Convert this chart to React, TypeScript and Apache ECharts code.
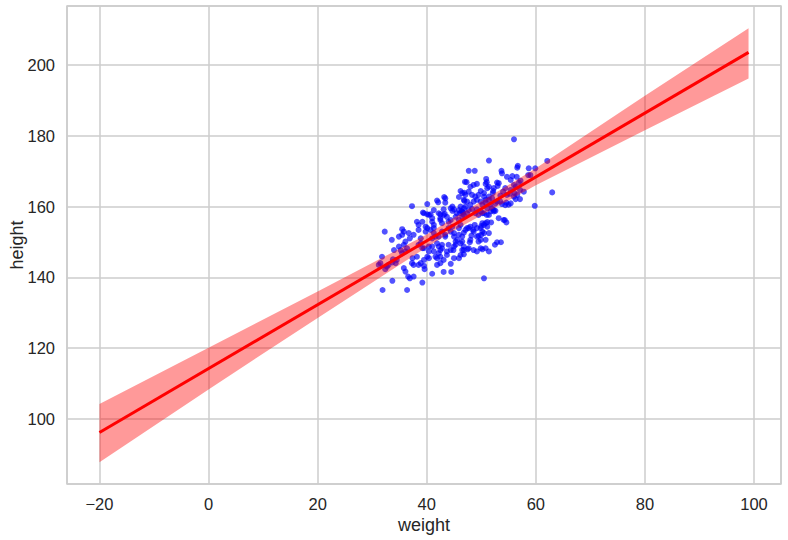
import React, { useEffect, useRef } from "react";
import * as echarts from "echarts";

// scatter: weight (x) / height (y)
const weights = [
  46.2, 46.9, 43.2, 41.9, 42.1, 43.4, 45.9, 46.9, 37.3, 40.1, 39.3, 40.1, 40.7, 43.1, 44.7, 45.0, 44.7, 46.2, 46.4, 45.5,
  46.1, 46.7, 42.5, 43.3, 47.0, 56.0, 51.4, 47.7, 48.8, 56.7, 56.6, 58.7, 59.9, 62.1, 53.7, 53.8, 59.0, 47.3, 48.6, 49.2,
  50.9, 51.0, 50.8, 52.9, 53.0, 54.7, 55.7, 56.5, 55.4, 56.0, 56.9, 57.2, 52.2, 52.3, 49.9, 50.5, 54.0, 53.5, 55.2, 56.1,
  57.1, 56.3, 57.1, 54.6, 53.8, 54.4, 63.0, 59.8, 46.5, 47.1, 47.7, 48.3, 46.8, 47.4, 48.0, 48.6, 48.9, 49.2, 47.1, 47.7,
  48.3, 49.2, 46.5, 49.9, 50.5, 51.1, 51.7, 52.3, 52.6, 50.8, 51.4, 52.0, 50.2, 32.3, 31.8, 31.9, 33.7, 36.4, 39.2, 36.6,
  36.9, 37.6, 41.0, 43.1, 44.5, 31.2, 31.5, 32.7, 33.0, 33.7, 34.3, 32.4, 34.5, 33.8, 35.8, 36.1, 37.3, 37.6, 38.5, 38.9,
  39.5, 39.6, 37.4, 38.2, 41.9, 42.5, 44.4, 45.0, 45.9, 46.2, 39.5, 40.1, 40.4, 35.2, 35.5, 36.1, 36.4, 35.8, 36.1, 34.9,
  35.5, 36.7, 34.9, 34.0, 37.6, 38.5, 39.5, 40.4, 41.0, 41.3, 39.8, 40.7, 39.5, 40.4, 41.0, 38.9, 41.9, 42.2, 42.8, 41.3,
  40.4, 42.2, 42.5, 43.7, 44.4, 45.0, 45.3, 45.6, 46.2, 46.8, 46.5, 43.1, 41.9, 41.6, 42.5, 43.1, 42.8, 44.0, 44.7, 45.3,
  45.9, 46.2, 46.8, 44.4, 43.4, 45.0, 45.9, 41.3, 42.2, 41.0, 50.5, 46.8, 49.2, 50.2, 51.4, 47.5, 52.5, 52.9, 53.6, 47.9,
  49.9, 48.2, 49.5, 50.0, 50.2, 51.4, 46.8, 47.1, 47.4, 48.5, 48.8, 49.2, 50.0, 50.5, 50.8, 50.2, 48.0, 53.2, 54.3, 54.6,
  51.1, 51.8, 49.5, 50.2, 51.0, 51.7, 52.3, 52.6, 48.9, 46.5, 35.5, 35.8, 36.9, 33.6, 38.2, 39.2, 40.1, 38.5, 38.9, 39.8,
  38.5, 39.2, 43.4, 49.9, 50.8, 51.4, 44.4, 45.9, 46.8, 47.4, 41.3, 42.2, 41.0, 42.5, 43.7, 44.4, 46.5, 41.3, 41.6, 42.8,
  43.4, 44.0, 45.0, 45.9, 47.7, 48.6, 49.2, 49.9, 50.5, 51.1, 50.8, 49.5, 48.0, 46.5, 45.3, 44.0, 42.8, 42.5, 43.7, 44.9,
  46.8, 47.7, 48.6, 49.9, 50.8, 48.0, 49.5, 50.5, 51.4, 58.6, 53.2, 51.1, 52.1, 54.4, 55.4, 56.3, 57.8, 54.7, 56.6, 56.0,
  55.0, 55.4, 53.5, 52.9, 54.1, 51.4, 52.0,
];
const heights = [
  164.4, 163.9, 162.7, 161.7, 161.2, 161.1, 162.7, 161.6, 160.1, 160.7, 158.3, 157.8, 157.8, 159.2, 160.0, 159.2, 158.8, 160.0, 158.7, 158.1,
  158.1, 158.3, 157.8, 157.9, 167.0, 179.0, 173.0, 170.1, 170.1, 171.5, 171.0, 170.8, 170.8, 172.9, 170.1, 169.4, 168.9, 166.9, 166.1, 166.4,
  167.8, 166.9, 166.4, 166.8, 165.8, 168.4, 168.6, 168.4, 167.5, 166.1, 166.8, 167.3, 164.4, 165.2, 164.4, 163.8, 164.2, 163.1, 163.6, 163.8,
  164.7, 162.1, 162.1, 161.1, 160.7, 160.4, 164.0, 160.2, 163.8, 163.3, 164.2, 163.3, 161.9, 161.4, 160.5, 161.4, 162.8, 161.9, 160.0, 159.0,
  159.3, 159.2, 158.6, 158.6, 158.1, 159.5, 160.5, 159.0, 160.9, 161.1, 161.9, 162.3, 160.5, 152.9, 145.8, 136.4, 139.0, 136.4, 138.5, 140.2,
  139.7, 140.2, 141.0, 141.5, 141.5, 143.5, 144.0, 143.0, 143.5, 144.2, 144.0, 142.3, 144.9, 145.1, 142.6, 141.6, 144.0, 143.5, 143.5, 144.0,
  143.2, 142.3, 145.4, 145.8, 143.5, 144.0, 143.8, 145.4, 145.4, 146.3, 144.9, 145.8, 145.4, 147.7, 146.8, 147.3, 148.2, 149.2, 150.1, 151.5,
  152.0, 152.5, 148.7, 147.7, 152.0, 154.8, 158.1, 157.6, 155.7, 154.8, 154.3, 153.4, 148.2, 148.7, 148.7, 149.6, 149.6, 148.7, 148.2, 147.3,
  147.3, 146.8, 145.8, 146.3, 147.7, 148.7, 150.1, 150.6, 149.6, 148.7, 147.7, 144.9, 145.4, 145.8, 156.7, 157.6, 155.3, 155.7, 154.3, 157.1,
  156.2, 154.8, 157.6, 152.9, 152.0, 151.5, 152.0, 152.5, 151.5, 151.0, 139.7, 146.5, 147.3, 147.9, 147.3, 147.9, 149.2, 149.9, 149.9, 149.9,
  150.6, 151.8, 151.7, 152.0, 152.9, 152.5, 152.6, 153.4, 153.9, 153.4, 154.8, 153.9, 154.5, 154.8, 155.3, 155.3, 154.3, 156.7, 156.2, 155.5,
  155.6, 155.5, 157.6, 158.1, 157.6, 158.6, 158.6, 158.8, 158.1, 151.5, 153.6, 152.9, 151.0, 150.6, 155.7, 155.7, 153.9, 153.4, 151.0, 152.9,
  149.2, 148.2, 162.3, 161.4, 161.9, 162.8, 159.5, 159.0, 159.5, 158.1, 159.0, 158.1, 156.7, 156.2, 157.1, 156.2, 157.1, 153.9, 151.5, 152.9,
  151.5, 153.9, 152.5, 153.9, 153.9, 152.9, 151.5, 153.9, 152.5, 154.3, 150.6, 150.1, 150.6, 150.1, 149.2, 149.2, 149.2, 147.7, 147.3, 147.7,
  147.7, 148.2, 147.7, 148.2, 148.2, 165.6, 163.3, 162.8, 165.6, 168.9, 166.6, 165.2, 163.8, 165.2, 164.7, 165.6, 164.2, 163.3, 163.3, 162.8,
  160.5, 160.9, 161.4, 161.4, 156.2, 157.6, 159.5,
];

// fitted regression line end points
const fitX = [-20, 99];
const fitY = [96.1, 203.6];

// confidence band, read at several weights
const bandX = [-20, 0, 20, 40, 45, 60, 80, 99];
const bandLower = [87.7, 108.3, 128.5, 148.5, 153.2, 166.0, 181.6, 196.2];
const bandUpper = [104.2, 120.1, 136.0, 152.1, 156.8, 170.8, 191.3, 210.4];

const xLimits = [-25.95, 104.95];
const yLimits = [81.55, 216.7];

export default function App() {
  const ref = useRef<HTMLDivElement>(null);
  useEffect(() => {
    const chart = echarts.init(ref.current as HTMLDivElement, null, { renderer: "svg" });
    const scatterData = weights.map((w, i) => [w, heights[i]]);
    const bandData = bandX.map((x, i) => [x, bandLower[i], bandUpper[i]]);
    const lineData = fitX.map((x, i) => [x, fitY[i]]);
    const font = "'Liberation Sans', Arial, sans-serif";
    chart.setOption({
      animation: false,
      backgroundColor: "#ffffff",
      grid: {
        left: 67,
        top: 6,
        right: 7,
        bottom: 56,
        containLabel: false,
        outerBoundsMode: "none",
        show: true,
        borderColor: "#cccccc",
        borderWidth: 1.5,
        backgroundColor: "transparent",
      },
      xAxis: {
        type: "value",
        min: xLimits[0],
        max: xLimits[1],
        minInterval: 20,
        maxInterval: 20,
        splitNumber: 6,
        name: "weight",
        nameLocation: "middle",
        nameGap: 32,
        nameMoveOverlap: false,
        nameTextStyle: { color: "#262626", fontSize: 18, fontFamily: font },
        axisLine: { show: false },
        axisTick: { show: false },
        axisLabel: {
          showMinLabel: false,
          showMaxLabel: false,
          color: "#262626",
          fontSize: 16.5,
          fontFamily: font,
          margin: 11,
          formatter: (v: number) => (v < 0 ? "\u2212" + Math.abs(v) : String(v)),
        },
        splitLine: { show: true, lineStyle: { color: "#cccccc", width: 1.5 } },
      },
      yAxis: {
        type: "value",
        min: yLimits[0],
        max: yLimits[1],
        minInterval: 20,
        maxInterval: 20,
        splitNumber: 6,
        name: "height",
        nameLocation: "middle",
        nameGap: 41,
        nameMoveOverlap: false,
        nameTextStyle: { color: "#262626", fontSize: 18, fontFamily: font },
        axisLine: { show: false },
        axisTick: { show: false },
        axisLabel: {
          showMinLabel: false,
          showMaxLabel: false,
          color: "#262626",
          fontSize: 16.5,
          fontFamily: font,
          margin: 12,
        },
        splitLine: { show: true, lineStyle: { color: "#cccccc", width: 1.5 } },
      },
      series: [
        {
          type: "scatter",
          data: scatterData,
          symbolSize: 6,
          itemStyle: { color: "rgba(0,0,255,0.85)" },
          z: 2,
        },
        {
          type: "custom",
          data: bandData,
          encode: { x: 0, y: [1, 2] },
          z: 3,
          renderItem: (params: any, api: any) => {
            if (params.dataIndex !== 0) return null;
            const up = bandData.map((d) => api.coord([d[0], d[2]]));
            const lo = bandData.map((d) => api.coord([d[0], d[1]])).reverse();
            return {
              type: "polygon",
              shape: { points: up.concat(lo) },
              style: { fill: "rgba(255,0,0,0.4)" },
            };
          },
        },
        {
          type: "line",
          data: lineData,
          symbol: "none",
          lineStyle: { color: "#ff0000", width: 3 },
          z: 4,
        },
      ],
    });
    return () => chart.dispose();
  }, []);
  return <div ref={ref} style={{ position: "fixed", left: 0, top: 0, width: 788, height: 540 }} />;
}
